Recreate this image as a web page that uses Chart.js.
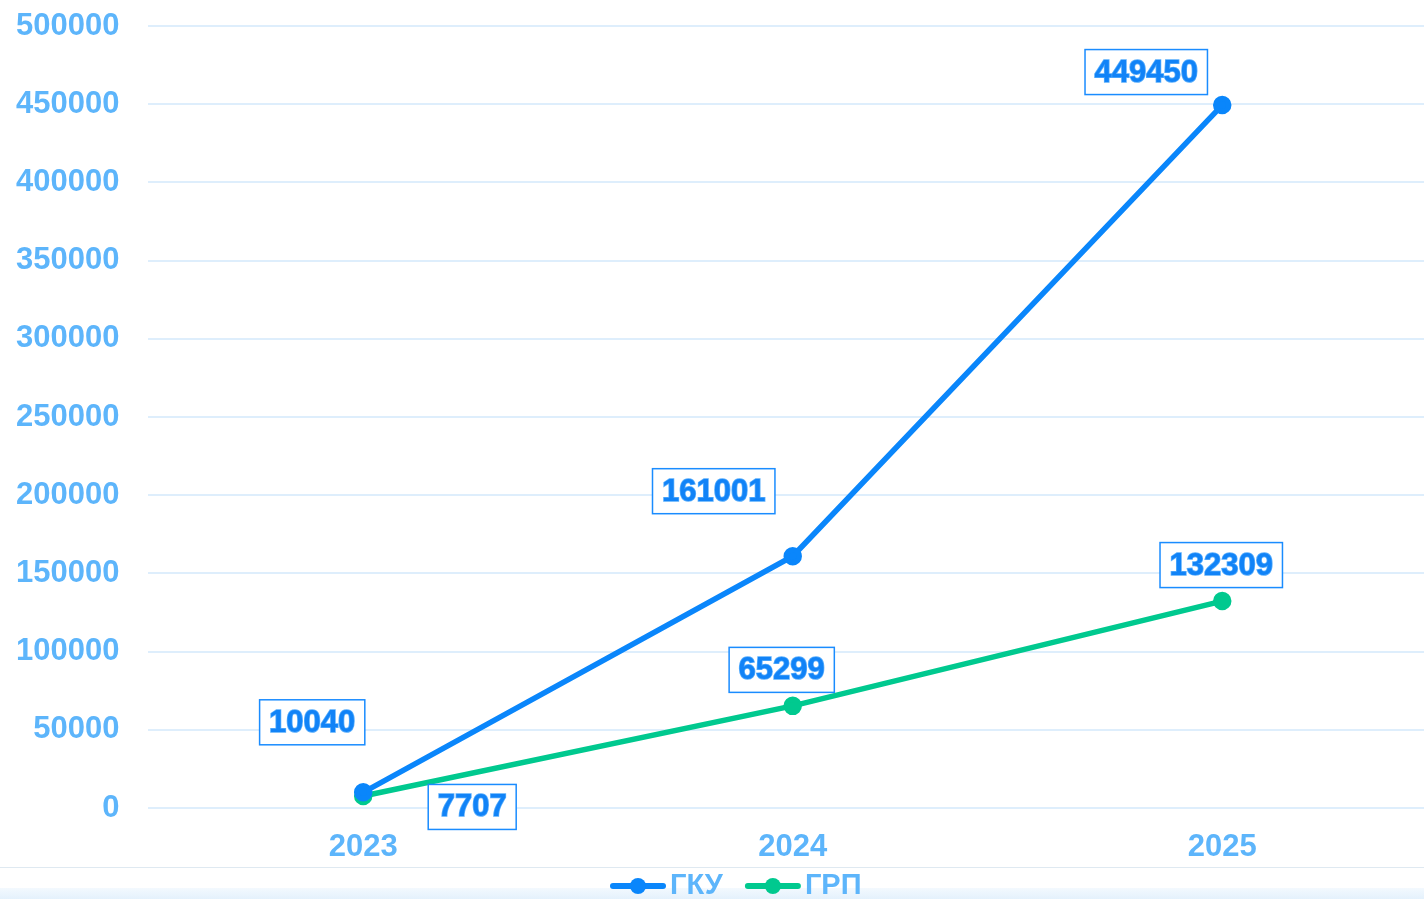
<!DOCTYPE html>
<html>
<head>
<meta charset="utf-8">
<title>ГКУ / ГРП</title>
<script src="https://cdn.jsdelivr.net/npm/chart.js@4.4.1/dist/chart.umd.min.js"></script>
<style>
  html, body { margin: 0; padding: 0; overflow: hidden; background: #fff; }
  #wrap { position: relative; width: 1424px; height: 899px; overflow: hidden; }
  .rule { position: absolute; left: 0; right: 0; top: 867px; height: 1px; background: #dfe9f1; }
  .band { position: absolute; left: 0; right: 0; top: 888px; height: 11px; background: linear-gradient(#f3f9fe, #e4f1fc); }
  #chart { position: absolute; left: -31px; top: 0; }
</style>
</head>
<body>
<div id="wrap">
  <div class="rule"></div>
  <div class="band"></div>
  <canvas id="chart" width="1480" height="899"></canvas>
</div>
<script>
/* ---------- data ---------- */
const years = ["2023", "2024", "2025"];
const gkuValues = [10040, 161001, 449450];
const grpValues = [7707, 65299, 132309];
const seriesNames = ["ГКУ", "ГРП"];
const yMax = 500000;
const yStep = 50000;

/* ---------- style ---------- */
const FONT = "'Liberation Sans', Arial, sans-serif";
const TICK_COLOR = "#5db5fb";
const GRID_COLOR = "#deeefc";
const LABEL_COLOR = "#1183f7";
const colors = ["#0a86fb", "#00c98f"];

// where each value box sits relative to its point (px)
const labelOffsets = [
    [[-51, -70], [-79, -65], [-76, -33]],
    [[109, 11], [-11, -36], [-1, -36]]
];

// canvas is shifted 31px left inside the page
const LEGEND_X = 610 + 31;
const LEGEND_Y = 886;

/* ---------- value boxes ---------- */
const valueBoxes = {
    id: "valueBoxes",
    afterDatasetsDraw(chart) {
        const ctx = chart.ctx;
        ctx.save();
        ctx.font = "bold 31px " + FONT;
        ctx.textAlign = "center";
        ctx.textBaseline = "middle";
        chart.data.datasets.forEach((ds, di) => {
            const meta = chart.getDatasetMeta(di);
            meta.data.forEach((pt, i) => {
                const text = String(ds.data[i]);
                const cx = pt.x + labelOffsets[di][i][0];
                const cy = pt.y + labelOffsets[di][i][1];
                const w = ctx.measureText(text).width + 19;
                const h = 45;
                ctx.fillStyle = "#fff";
                ctx.fillRect(cx - w / 2, cy - h / 2, w, h);
                ctx.strokeStyle = "#1a8cff";
                ctx.lineWidth = 1.5;
                ctx.strokeRect(cx - w / 2, cy - h / 2, w, h);
                ctx.strokeStyle = "#5aaefc";
                ctx.strokeText(text, cx, cy + 1);
                ctx.fillStyle = LABEL_COLOR;
                ctx.fillText(text, cx, cy + 1);
            });
        });
        ctx.restore();
    }
};

/* ---------- legend (line + dot) ---------- */
const lineLegend = {
    id: "lineLegend",
    afterDraw(chart) {
        const ctx = chart.ctx;
        let x = LEGEND_X;
        const y = LEGEND_Y;
        ctx.save();
        ctx.font = "bold 29px " + FONT;
        ctx.textBaseline = "middle";
        chart.data.datasets.forEach(ds => {
            ctx.strokeStyle = ds.borderColor;
            ctx.lineWidth = 6;
            ctx.lineCap = "round";
            ctx.beginPath();
            ctx.moveTo(x + 3, y);
            ctx.lineTo(x + 53, y);
            ctx.stroke();
            ctx.fillStyle = ds.borderColor;
            ctx.beginPath();
            ctx.arc(x + 28, y, 8, 0, Math.PI * 2);
            ctx.fill();
            ctx.fillStyle = TICK_COLOR;
            ctx.fillText(ds.label, x + 60, y);
            x += 60 + ctx.measureText(ds.label).width + 22;
        });
        ctx.restore();
    }
};

/* ---------- chart ---------- */
const chart = new Chart(document.getElementById("chart"), {
    type: "line",
    data: {
        labels: years,
        datasets: [{
            label: seriesNames[0],
            data: gkuValues,
            borderColor: colors[0],
            backgroundColor: colors[0],
            borderWidth: 5.5,
            pointRadius: 6.5,
            pointHoverRadius: 6.5,
            tension: 0
        }, {
            label: seriesNames[1],
            data: grpValues,
            borderColor: colors[1],
            backgroundColor: colors[1],
            borderWidth: 5.5,
            pointRadius: 6.5,
            pointHoverRadius: 6.5,
            tension: 0
        }]
    },
    options: {
        responsive: false,
        devicePixelRatio: 1,
        animation: false,
        layout: { padding: { top: 26, left: 18, right: 0, bottom: 12 } },
        plugins: {
            legend: { display: false },
            tooltip: { enabled: false }
        },
        scales: {
            x: {
                offset: true,
                grid: { display: false, drawTicks: false },
                border: { display: false },
                afterFit: s => { s.paddingLeft = 0; s.paddingRight = 0; },
                ticks: {
                    color: TICK_COLOR,
                    padding: 24,
                    font: { family: FONT, size: 31, weight: "bold", lineHeight: 1 }
                }
            },
            y: {
                min: 0,
                max: yMax,
                grid: { color: GRID_COLOR, lineWidth: 2, drawTicks: false },
                border: { display: false },
                afterFit: s => { s.paddingTop = 0; },
                ticks: {
                    stepSize: yStep,
                    color: TICK_COLOR,
                    padding: 29,
                    font: { family: FONT, size: 31, weight: "bold" },
                    callback: v => String(v)
                }
            }
        }
    },
    plugins: [valueBoxes, lineLegend]
});
</script>
</body>
</html>
